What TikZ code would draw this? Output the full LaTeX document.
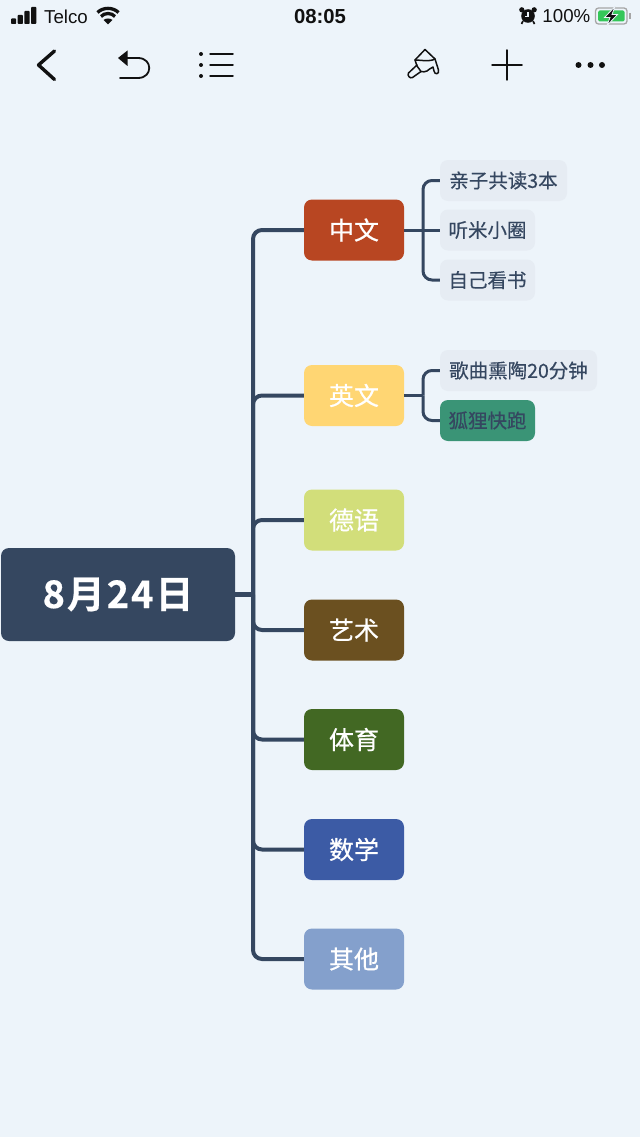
\documentclass[tikz,border=0pt]{standalone}
\usepackage{fontspec}
\setmainfont{Liberation Sans}
\newfontfamily\cjk[FakeBold=0.6]{Noto Sans CJK SC}
\newfontfamily\cjksub[FakeBold=0.35]{Noto Sans CJK SC}
\newfontfamily\cjkb[LetterSpace=5,FakeBold=0.4]{Noto Sans CJK SC Bold}
\usetikzlibrary{calc}
\definecolor{bgc}{HTML}{EDF4FA}
\definecolor{linec}{HTML}{354760}
\definecolor{subc}{HTML}{E6ECF3}
\definecolor{iconc}{HTML}{111111}
\definecolor{battc}{HTML}{34C759}
\tikzset{
  rootbox/.style={draw=none,fill=linec,rounded corners=8pt,minimum width=234pt,minimum height=93pt,inner sep=0pt,text=white,font=\cjkb\fontsize{38}{40}\selectfont},
  mainbox/.style={draw=none,rounded corners=8pt,minimum width=100pt,minimum height=61pt,inner sep=0pt,text=white,font=\cjk\fontsize{25}{28}\selectfont},
  subbox/.style={draw=none,fill=subc,rounded corners=8pt,minimum height=41pt,inner sep=0pt,text=linec,font=\cjksub\fontsize{19.5}{22}\selectfont},
  trunk/.style={draw=linec,line width=4pt,rounded corners=9pt},
  twig/.style={draw=linec,line width=3pt,rounded corners=9pt},
  statustext/.style={inner sep=0pt,text=iconc,font=\fontsize{18.7}{20}\selectfont},
  icon/.style={draw=iconc,line width=1.8pt,line cap=round,line join=round},
}
\begin{document}
\begin{tikzpicture}[x=1pt,y=-1pt]
\fill[bgc] (0,0) rectangle (640,1137);
\useasboundingbox (0,0) rectangle (640,1137);

% mind map nodes
\node[rootbox] (root) at (118,594.5) {8月24日};
\node[mainbox,fill={rgb,255:red,184;green,70;blue,34}] (zh) at (354,230) {中文};
\node[mainbox,fill={rgb,255:red,255;green,214;blue,115}] (en) at (354,395.5) {英文};
\node[mainbox,fill={rgb,255:red,210;green,222;blue,122}] (de) at (354,520) {德语};
\node[mainbox,fill={rgb,255:red,107;green,80;blue,32}] (art) at (354,630) {艺术};
\node[mainbox,fill={rgb,255:red,66;green,104;blue,35}] (pe) at (354,739.5) {体育};
\node[mainbox,fill={rgb,255:red,60;green,91;blue,165}] (math) at (354,849.5) {数学};
\node[mainbox,fill={rgb,255:red,132;green,160;blue,204}] (other) at (354,959) {其他};

\node[subbox,minimum width=127pt] (s1) at (503.5,180.5) {亲子共读3本};
\node[subbox,minimum width=95pt] (s2) at (487.5,230) {听米小圈};
\node[subbox,minimum width=95pt] (s3) at (487.5,280) {自己看书};
\node[subbox,minimum width=157pt] (s4) at (518.5,370.5) {歌曲熏陶20分钟};
\node[subbox,minimum width=95pt,fill={rgb,255:red,58;green,148;blue,118}] (s5) at (487.5,420.5) {狐狸快跑};

% trunk connectors
\coordinate (hub) at (253,594.5);
\draw[trunk,rounded corners=0pt,line width=5pt] (root.east) -- (hub);
\foreach \t in {zh,en,de,art,pe,math,other}
  \draw[trunk] (hub) -- (hub |- \t.west) -- (\t.west);

% sub-branch connectors
\coordinate (bz) at (423,230);
\coordinate (be) at (423,395.5);
\draw[twig] (zh.east) -- (s2.west);
\draw[twig] (bz) -- (bz |- s1.west) -- (s1.west);
\draw[twig] (bz) -- (bz |- s3.west) -- (s3.west);
\draw[twig] (en.east) -- (be);
\draw[twig] (be) -- (be |- s4.west) -- (s4.west);
\draw[twig] (be) -- (be |- s5.west) -- (s5.west);

% status bar
\foreach \i/\h in {0/5.5,1/9,2/13,3/17}
  \fill[iconc,rounded corners=0.8pt] (11+\i*6.7,24-\h) rectangle ++(5.2,\h);
\node[statustext,anchor=west] (carrier) at (44,16.5) {Telco};
\fill[iconc] (108,24.5) -- (103.5,20) .. controls (105.5,18) and (110.5,18) .. (112.5,20) -- cycle;
\draw[iconc,line width=3.3pt] (101,16.5) .. controls (104.5,12.5) and (111.5,12.5) .. (115,16.5);
\draw[iconc,line width=3.3pt] (97.5,12.5) .. controls (103,7) and (113,7) .. (118.5,12.5);
\node[inner sep=0pt,text=iconc,font=\bfseries\fontsize{20.3}{22}\selectfont] (clock) at (320,16.5) {08:05};
\begin{scope}[shift={(528,16)}]
  \fill[iconc] (0,0) circle (6.8);
  \fill[iconc] (-6.2,-6.2) circle (2.6) (6.2,-6.2) circle (2.6);
  \draw[iconc,line width=1.6pt] (-5,5) -- (-6.5,8) (5,5) -- (6.5,8);
  \draw[bgc,line width=1.1pt] (0,-4) -- (0,0.5) -- (-3.5,0.5);
\end{scope}
\node[statustext,anchor=east] (batt) at (590.5,16.5) {100\%};
\draw[gray!70!white,line width=1.3pt,rounded corners=3pt] (595.5,8) rectangle (627,24);
\fill[gray!70!white] (629,13) rectangle (631,19);
\fill[battc,rounded corners=1.5pt] (598,10.5) rectangle (624.5,21.5);
\fill[iconc,draw=bgc,line width=0.8pt] (615,6.5) -- (604.5,17.5) -- (610,17.5) -- (607,25.5) -- (617.5,14.5) -- (612,14.5) -- cycle;

% toolbar
\draw[icon,line width=3.4pt] (54.5,51) -- (38.5,65) -- (54.5,79.5);
\draw[icon] (125,58) -- (138,58) .. controls (153,58) and (153,78) .. (138,78) -- (120,78);
\fill[iconc] (118,58) -- (127.5,50.5) -- (127.5,66) -- cycle;
\foreach \yy in {54,65,76}{
  \fill[iconc] (201,\yy) circle (2);
  \draw[icon,line width=1.5pt] (210,\yy) -- (233,\yy);
}
% paint brush
\draw[icon,line width=1.5pt] (425,49.5) -- (435,59) -- (438.5,70) .. controls (439.5,74.5) and (434.5,75) .. (434,71) -- (433,67) .. controls (431,70) and (428,68) .. (427,71) .. controls (425,72) and (423,72) .. (421,71.5) -- (417,66) -- (415,60) -- cycle;
\draw[icon,line width=1.5pt] (415,60) .. controls (420,60) and (430,62) .. (435,59);
\draw[icon,line width=1.5pt] (417,65) -- (408.5,73) .. controls (407,75.5) and (410,79) .. (412.5,77.5) -- (421,71.5);
% plus
\draw[icon,line width=1.5pt] (507,50) -- (507,80) (492,65) -- (522,65);
% more
\foreach \xx in {578.5,590.5,602}
  \fill[iconc] (\xx,65) circle (3);
\end{tikzpicture}
\end{document}
